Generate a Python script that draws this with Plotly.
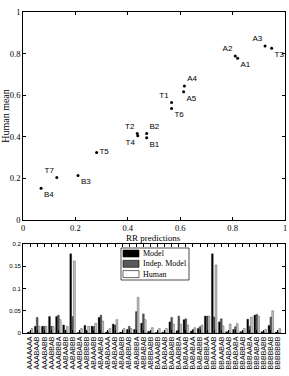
import plotly.graph_objects as go

# ---------- scatter data ----------
pt_names = ["A1", "A2", "A3", "A4", "A5", "T1", "T2", "T3", "T4", "T5", "T6", "T7", "B1", "B2", "B3", "B4"]
rr_pred = [0.819, 0.810, 0.924, 0.616, 0.613, 0.567, 0.436, 0.949, 0.438, 0.281, 0.567, 0.129, 0.472, 0.472, 0.210, 0.069]
human_mean = [0.778, 0.788, 0.836, 0.644, 0.616, 0.565, 0.416, 0.826, 0.405, 0.325, 0.536, 0.204, 0.396, 0.416, 0.214, 0.153]
pt_textpos = ["bottom right", "top left", "top left", "top right", "bottom right", "top left", "top left",
              "bottom right", "bottom left", "middle right", "bottom right", "top left", "bottom right",
              "top right", "bottom right", "bottom right"]

# ---------- bar data ----------
sequences = ["AAAAAAA", "AAABAAB", "AAABABB", "AAABBAB", "AAABBBA", "AABAABB", "AABABBB", "AABBABA",
             "AABBBBB", "ABAAABB", "ABAABAB", "ABABAAA", "ABABAAB", "ABABABB", "ABABBAB", "ABABBBA",
             "ABBABAB", "ABBBABB", "BAAAABB", "BAABAAB", "BAABABB", "BAABBBA", "BABAAAB", "BABABAA",
             "BABABBB", "BABBBAA", "BBAAAAB", "BBAABAB", "BBABAAB", "BBABABA", "BBABBAB", "BBBAABA",
             "BBBABAB", "BBBBABB", "BBBBBAB", "BBBBBBB"]
model = [0.002, 0.015, 0.015, 0.037, 0.037, 0.018, 0.178, 0.001, 0.017, 0.015, 0.035, 0.002,
         0.020, 0.002, 0.008, 0.008, 0.022, 0.004, 0.001, 0.002, 0.025, 0.005, 0.030, 0.004,
         0.010, 0.038, 0.178, 0.025, 0.003, 0.008, 0.003, 0.031, 0.040, 0.003, 0.017, 0.002]
indep_model = [0.003, 0.035, 0.015, 0.015, 0.040, 0.006, 0.037, 0.002, 0.004, 0.015, 0.040, 0.003,
               0.018, 0.002, 0.015, 0.048, 0.043, 0.003, 0.002, 0.002, 0.035, 0.038, 0.032, 0.008,
               0.014, 0.038, 0.036, 0.032, 0.003, 0.014, 0.003, 0.015, 0.042, 0.003, 0.036, 0.002]
human = [0.010, 0.015, 0.015, 0.015, 0.030, 0.015, 0.162, 0.010, 0.015, 0.022, 0.027, 0.010,
         0.030, 0.010, 0.010, 0.080, 0.030, 0.012, 0.010, 0.010, 0.020, 0.020, 0.018, 0.012,
         0.018, 0.038, 0.153, 0.016, 0.020, 0.021, 0.010, 0.036, 0.038, 0.008, 0.050, 0.010]
series_names = ["Model", "Indep. Model", "Human"]

scatter_ticks = [0, 0.2, 0.4, 0.6, 0.8, 1]
scatter_ticklabels = ["0", "0.2", "0.4", "0.6", "0.8", "1"]
bar_ticks = [0, 0.05, 0.1, 0.15, 0.2]
bar_ticklabels = ["0", "0.05", "0.1", "0.15", "0.2"]

SERIF = "Liberation Serif"
SANS = "Liberation Sans"
W, H = 289, 376

fig = go.Figure()

fig.add_trace(go.Scatter(
    x=rr_pred, y=human_mean, text=pt_names, mode="markers+text",
    textposition=pt_textpos,
    marker=dict(color="black", size=3),
    textfont=dict(family=SANS, size=8, color="#000000"),
    showlegend=False, xaxis="x", yaxis="y", cliponaxis=False,
))

bar_fill = ["#000000", "#5a5a5a", "#c8c8c8"]
legend_fill = ["#000000", "#5a5a5a", "#ffffff"]
for name, vals, col in zip(series_names, [model, indep_model, human], bar_fill):
    fig.add_trace(go.Bar(
        x=sequences, y=vals, name=name, xaxis="x2", yaxis="y2", showlegend=False,
        marker=dict(color=col, line=dict(color="black", width=0.3)),
    ))

axis_common = dict(showgrid=False, zeroline=False, showline=True, linecolor="black", linewidth=0.8,
                   mirror="ticks", ticks="inside", ticklen=3, tickcolor="black", automargin=False)

x0, x1 = 23 / W, 285 / W
fig.update_layout(
    width=W, height=H,
    margin=dict(l=0, r=0, t=0, b=0),
    paper_bgcolor="white", plot_bgcolor="white",
    barmode="group", bargap=0.22, bargroupgap=0.0,
    showlegend=False,
    xaxis=dict(domain=[x0, x1], range=[0, 1], tickvals=scatter_ticks, ticktext=scatter_ticklabels,
               tickfont=dict(family=SERIF, size=8.5, color="black"),
               anchor="y", **axis_common),
    yaxis=dict(domain=[1 - 220 / H, 1 - 12 / H], range=[0, 1], tickvals=scatter_ticks, ticktext=scatter_ticklabels,
               tickfont=dict(family=SERIF, size=8.5, color="black"),
               title=dict(text="Human mean", font=dict(family=SERIF, size=10, color="black"), standoff=4),
               anchor="x", **axis_common),
    xaxis2=dict(domain=[x0, x1], range=[-1, 36], type="category", tickangle=-90,
                tickmode="array", tickvals=sequences, ticktext=sequences,
                tickfont=dict(family=SANS, size=7, color="black"), anchor="y2", **axis_common),
    yaxis2=dict(domain=[1 - 333 / H, 1 - 244 / H], range=[0, 0.2], tickvals=bar_ticks, ticktext=bar_ticklabels,
                tickfont=dict(family=SANS, size=6, color="black"), anchor="x2", **axis_common),
)

# x-axis title of the scatter
fig.add_annotation(text="RR predictions", xref="paper", yref="paper", x=(23 + 285) / 2 / W, y=1 - 245 / H,
                   xanchor="center", yanchor="bottom", showarrow=False,
                   font=dict(family=SERIF, size=9, color="black"))

# hand-drawn legend for the bar chart
lx0, ly0, lx1, ly1 = 121, 248, 189, 280
fig.add_shape(type="rect", xref="paper", yref="paper", x0=lx0 / W, x1=lx1 / W, y0=1 - ly1 / H, y1=1 - ly0 / H,
              line=dict(color="black", width=0.7), fillcolor="white", layer="above")
row_h = 10.3
for i, (name, col) in enumerate(zip(series_names, legend_fill)):
    cy = ly0 + 5.5 + i * row_h
    fig.add_shape(type="rect", xref="paper", yref="paper", x0=123 / W, x1=139 / W,
                  y0=1 - (cy + 3.5) / H, y1=1 - (cy - 3.5) / H,
                  line=dict(color="black", width=0.6), fillcolor=col, layer="above")
    fig.add_annotation(text=name, xref="paper", yref="paper", x=141 / W, y=1 - cy / H,
                       xanchor="left", yanchor="middle", showarrow=False,
                       font=dict(family=SERIF, size=8, color="black"))

fig.write_html("out.html")
